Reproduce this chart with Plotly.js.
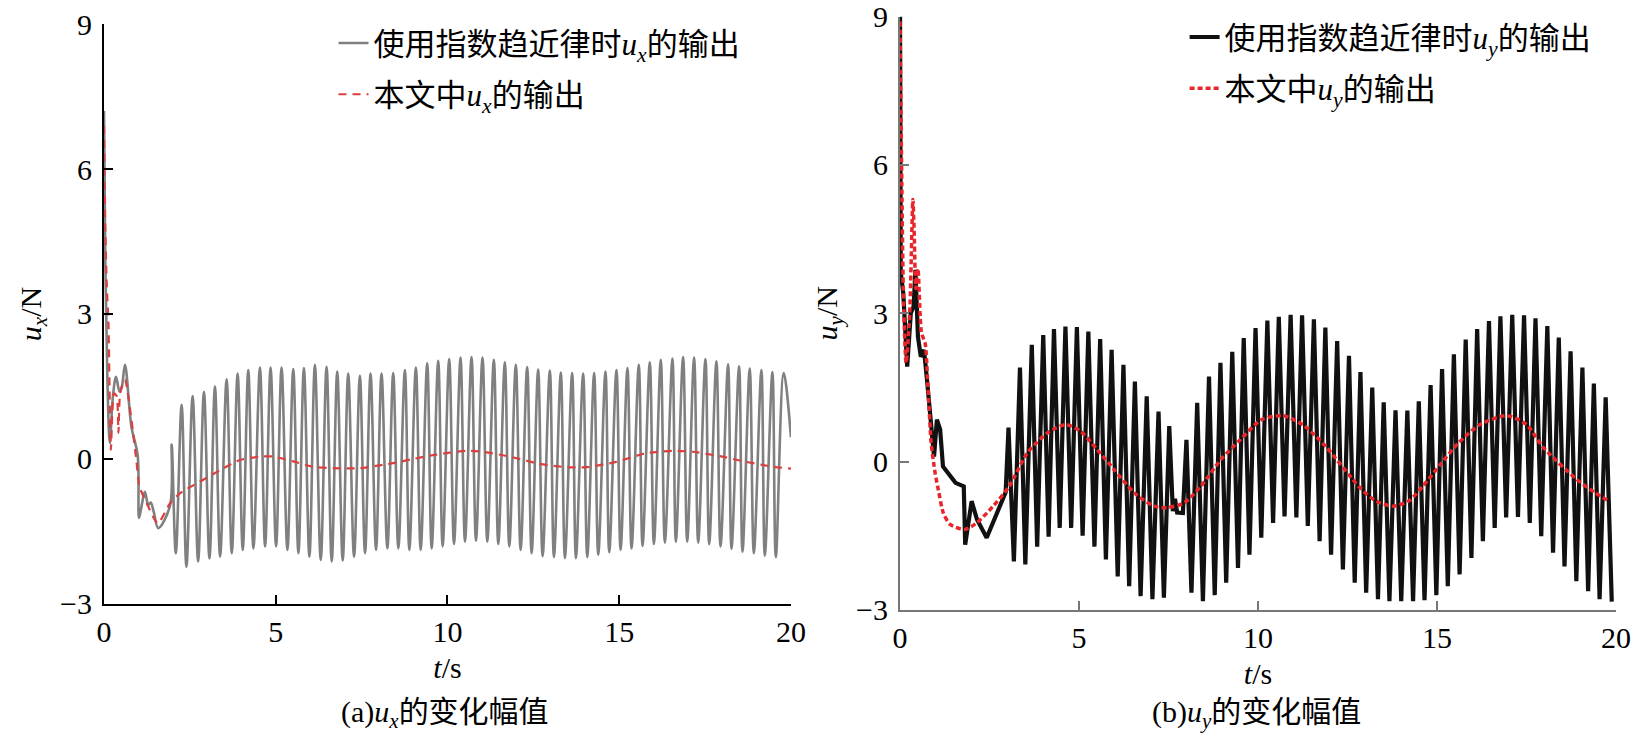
<!DOCTYPE html>
<html>
<head>
<meta charset="utf-8">
<script src="https://cdn.plot.ly/plotly-3.0.1.min.js"></script>
<style>
html, body { margin: 0; padding: 0; background: #fff; }
#chart { width: 1643px; height: 741px; }
</style>
</head>
<body>
<div id="chart"></div>
<script>
// ---- (a) u_x, exponential reaching law (grey) ----
var uxExpStartT = [0, 0.04, 0.10, 0.17, 0.26, 0.35, 0.45, 0.52, 0.61, 0.80, 0.98, 1.02, 1.10, 1.19, 1.29, 1.36, 1.45, 1.58, 1.92, 1.97];
var uxExpStartV = [7.2, 4.0, 1.6, 0.33, 1.3, 1.7, 1.4, 1.5, 1.95, 0.66, 0.08, -1.22, -0.95, -0.68, -0.95, -0.9, -1.1, -1.43, -0.97, 0.3];
var uxExpTroughT = [2.09, 2.40, 2.74, 3.07, 3.38, 3.72, 4.04, 4.35, 4.69, 5.01, 5.34, 5.66, 5.98, 6.31, 6.63, 6.95, 7.28, 7.60, 7.92, 8.25,
    8.57, 8.89, 9.22, 9.54, 9.86, 10.19, 10.51, 10.83, 11.16, 11.48, 11.80, 12.13, 12.45, 12.77, 13.10, 13.42, 13.74, 14.07, 14.39, 14.71,
    15.04, 15.36, 15.68, 16.01, 16.33, 16.65, 16.98, 17.30, 17.62, 17.95, 18.27, 18.59, 18.92, 19.24, 19.56];
var uxExpTroughV = [-1.95, -2.23, -2.12, -2.06, -2.02, -1.95, -1.88, -1.85, -1.81, -1.81, -1.88, -1.95, -2.02, -2.09, -2.12, -2.10, -2.02, -1.95, -1.88, -1.85,
    -1.85, -1.88, -1.88, -1.85, -1.81, -1.76, -1.71, -1.69, -1.71, -1.76, -1.81, -1.88, -1.95, -2.01, -2.03, -2.05, -2.05, -2.03, -1.98, -1.93,
    -1.88, -1.85, -1.80, -1.76, -1.73, -1.71, -1.71, -1.73, -1.76, -1.81, -1.86, -1.92, -1.95, -2.00, -2.03];
var uxExpPeakT = [2.26, 2.58, 2.91, 3.23, 3.57, 3.89, 4.20, 4.54, 4.85, 5.17, 5.51, 5.82, 6.14, 6.48, 6.79, 7.11, 7.45, 7.76, 8.08, 8.42,
    8.76, 9.08, 9.41, 9.73, 10.05, 10.38, 10.70, 11.02, 11.35, 11.67, 11.99, 12.32, 12.64, 12.98, 13.30, 13.63, 13.95, 14.27, 14.60, 14.92,
    15.24, 15.57, 15.89, 16.21, 16.55, 16.86, 17.18, 17.51, 17.83, 18.17, 18.49, 18.80, 19.14, 19.46, 19.79];
var uxExpPeakV = [1.12, 1.30, 1.39, 1.50, 1.65, 1.77, 1.84, 1.89, 1.89, 1.89, 1.86, 1.88, 1.95, 1.91, 1.81, 1.77, 1.72, 1.77, 1.77, 1.78,
    1.84, 1.89, 1.98, 2.03, 2.07, 2.10, 2.11, 2.10, 2.05, 2.00, 1.95, 1.90, 1.85, 1.83, 1.79, 1.78, 1.77, 1.78, 1.81, 1.84,
    1.88, 1.95, 2.00, 2.05, 2.08, 2.11, 2.10, 2.07, 2.02, 1.96, 1.92, 1.87, 1.84, 1.80, 1.78];
var uxExpEndT = [20.0];
var uxExpEndV = [0.45];

// ---- (a) u_x, this paper (red dashed) ----
var uxOursT = [0, 0.03, 0.08, 0.13, 0.20, 0.29, 0.37, 0.42, 0.47, 0.61, 0.80, 0.95, 1.03, 1.24, 1.48, 1.58, 1.92, 2.21, 2.79, 3.38,
    3.96, 4.54, 4.93, 5.51, 6.09, 6.67, 7.45, 8.13, 8.61, 9.00, 9.58, 10.55, 11.03, 11.81, 12.68, 13.46, 14.04, 14.91, 15.78, 16.56,
    17.14, 17.92, 18.70, 19.48, 20.0];
var uxOursV = [6.9, 5.0, 3.6, 2.8, 0.19, 1.36, 1.3, 0.54, 1.36, 1.64, 0.81, -0.08, -0.57, -0.91, -1.26, -1.33, -0.92, -0.71, -0.47, -0.23,
    -0.02, 0.05, 0.05, -0.05, -0.16, -0.19, -0.19, -0.12, -0.06, 0.0, 0.08, 0.17, 0.15, 0.05, -0.1, -0.17, -0.17, -0.06, 0.12, 0.17,
    0.15, 0.06, -0.06, -0.16, -0.2];

// ---- (b) u_y, exponential reaching law (black) ----
var uyExpStartT = [0, 0.02, 0.09, 0.13, 0.16, 0.20, 0.30, 0.38, 0.43, 0.50, 0.58, 0.67, 0.76, 0.86, 0.95, 1.03, 1.12, 1.20, 1.30, 1.55,
    1.78, 1.82, 2.00, 2.15, 2.42, 2.95];
var uyExpStartV = [9.0, 3.82, 3.41, 2.8, 2.2, 1.92, 3.0, 3.14, 3.88, 2.53, 2.12, 2.26, 1.6, 0.85, 0.1, 0.85, 0.65, -0.1, -0.2, -0.43,
    -0.5, -1.68, -0.8, -1.17, -1.54, -0.62];
var uyExpTop1T = [3.03, 3.35, 3.68, 4.00, 4.30, 4.62, 4.94, 5.26, 5.59, 5.91, 6.24, 6.56, 6.89, 7.22, 7.52];
var uyExpTop1V = [0.69, 1.90, 2.36, 2.56, 2.68, 2.73, 2.72, 2.63, 2.48, 2.26, 1.96, 1.62, 1.32, 1.01, 0.72];
var uyExpBot1T = [3.18, 3.50, 3.83, 4.15, 4.46, 4.78, 5.10, 5.43, 5.75, 6.08, 6.40, 6.72, 7.05, 7.37, 7.62];
var uyExpBot1V = [-2.02, -2.08, -1.72, -1.52, -1.34, -1.34, -1.50, -1.72, -1.98, -2.32, -2.52, -2.72, -2.78, -2.75, -1.0];
var uyExpGapT = [7.68, 7.74, 7.90];
var uyExpGapV = [-0.75, -1.03, -1.04];
var uyExpTop2T = [8.00, 8.30, 8.63, 8.95, 9.28, 9.60, 9.93, 10.26, 10.58, 10.91, 11.23, 11.56, 11.88, 12.21, 12.54, 12.86, 13.19, 13.51, 13.84, 14.17,
    14.49, 14.82, 15.14, 15.47, 15.80, 16.12, 16.45, 16.77, 17.10, 17.43, 17.75, 18.08, 18.40, 18.73, 19.06, 19.38, 19.71];
var uyExpTop2V = [0.44, 1.19, 1.72, 2.00, 2.22, 2.50, 2.70, 2.85, 2.93, 2.97, 2.96, 2.88, 2.71, 2.44, 2.14, 1.81, 1.50, 1.20, 1.04, 1.03,
    1.22, 1.55, 1.87, 2.17, 2.47, 2.68, 2.84, 2.94, 2.97, 2.96, 2.90, 2.74, 2.51, 2.23, 1.90, 1.58, 1.30];
var uyExpBot2T = [8.14, 8.46, 8.79, 9.11, 9.44, 9.76, 10.09, 10.42, 10.74, 11.07, 11.39, 11.72, 12.04, 12.37, 12.70, 13.02, 13.35, 13.67, 14.00, 14.33,
    14.65, 14.98, 15.30, 15.63, 15.96, 16.28, 16.61, 16.93, 17.26, 17.59, 17.91, 18.24, 18.56, 18.89, 19.22, 19.54, 19.88];
var uyExpBot2V = [-2.65, -2.82, -2.70, -2.45, -2.15, -1.88, -1.54, -1.24, -1.11, -1.13, -1.30, -1.61, -1.88, -2.18, -2.45, -2.65, -2.78, -2.82, -2.82, -2.82,
    -2.80, -2.70, -2.52, -2.28, -1.95, -1.61, -1.34, -1.13, -1.12, -1.24, -1.51, -1.84, -2.12, -2.42, -2.62, -2.78, -2.83];

// ---- (b) u_y, this paper (red dotted) ----
var uyOursT = [0, 0.05, 0.10, 0.17, 0.27, 0.36, 0.40, 0.44, 0.50, 0.60, 0.70, 0.78, 0.87, 0.98, 1.07, 1.21, 1.40, 1.81, 2.14, 2.60,
    3.05, 3.56, 4.12, 4.63, 5.05, 5.51, 5.98, 6.54, 7.10, 7.47, 7.94, 8.40, 8.96, 9.50, 10.10, 10.70, 11.30, 11.90, 12.85, 13.30,
    13.77, 14.20, 14.60, 15.10, 15.60, 16.20, 16.95, 17.50, 17.95, 18.90, 19.40, 19.80];
var uyOursV = [8.9, 5.6, 3.2, 2.0, 3.0, 5.3, 4.5, 3.5, 3.9, 2.6, 2.4, 1.5, 0.38, -0.23, -0.57, -1.04, -1.27, -1.37, -1.24, -0.9,
    -0.5, 0.18, 0.58, 0.75, 0.61, 0.24, -0.16, -0.63, -0.9, -0.93, -0.83, -0.5, 0.04, 0.44, 0.85, 0.93, 0.72, 0.3, -0.53, -0.8,
    -0.9, -0.8, -0.5, -0.05, 0.38, 0.75, 0.93, 0.75, 0.3, -0.36, -0.62, -0.8];

var xTicks = [0, 5, 10, 15, 20];
var yTicks = [-3, 0, 3, 6, 9];

// interleave two alternating point lists (a0, b0, a1, b1, ...)
function interleave(aT, aV, bT, bV) {
    var t = [], v = [];
    for (var i = 0; i < aT.length; i++) {
        t.push(aT[i]); v.push(aV[i]);
        if (i < bT.length) { t.push(bT[i]); v.push(bV[i]); }
    }
    return { t: t, v: v };
}

var gx = interleave(uxExpTroughT, uxExpTroughV, uxExpPeakT, uxExpPeakV);
var greyT = uxExpStartT.concat(gx.t, uxExpEndT);
var greyV = uxExpStartV.concat(gx.v, uxExpEndV);

var b1 = interleave(uyExpTop1T, uyExpTop1V, uyExpBot1T, uyExpBot1V);
var b2 = interleave(uyExpTop2T, uyExpTop2V, uyExpBot2T, uyExpBot2V);
var blackT = uyExpStartT.concat(b1.t, uyExpGapT, b2.t);
var blackV = uyExpStartV.concat(b1.v, uyExpGapV, b2.v);

var FONT = 'Liberation Serif, "Noto Sans CJK SC", serif';

var traces = [
    {
        x: greyT, y: greyV, xaxis: 'x', yaxis: 'y',
        type: 'scatter', mode: 'lines',
        name: '使用指数趋近律时<i>u</i><sub><i>x</i></sub>的输出',
        line: { color: '#808080', width: 2.6, shape: 'spline', smoothing: 1 },
        legend: 'legend', legendgroup: 'a1'
    },
    {
        x: uxOursT, y: uxOursV, xaxis: 'x', yaxis: 'y',
        type: 'scatter', mode: 'lines',
        name: '本文中<i>u</i><sub><i>x</i></sub>的输出',
        line: { color: '#d9403f', width: 2.2, dash: '8px,6px', shape: 'spline', smoothing: 0.6 },
        legend: 'legend', legendgroup: 'a2'
    },
    {
        x: blackT, y: blackV, xaxis: 'x2', yaxis: 'y2',
        type: 'scatter', mode: 'lines',
        name: '使用指数趋近律时<i>u</i><sub><i>y</i></sub>的输出',
        line: { color: '#111111', width: 4.2 },
        legend: 'legend2', legendgroup: 'b1'
    },
    {
        x: uyOursT, y: uyOursV, xaxis: 'x2', yaxis: 'y2',
        type: 'scatter', mode: 'lines',
        name: '本文中<i>u</i><sub><i>y</i></sub>的输出',
        line: { color: '#e8262a', width: 3.5, dash: '5px,3px', shape: 'spline', smoothing: 0.7 },
        legend: 'legend2', legendgroup: 'b2'
    }
];

function xAxis(domain, anchor, col) {
    return {
        domain: domain, anchor: anchor, range: [0, 20],
        tickvals: xTicks, ticks: 'inside', ticklen: 9, tickwidth: 2, tickcolor: col,
        showline: true, linecolor: col, linewidth: 2, mirror: false,
        showgrid: false, zeroline: false,
        tickfont: { family: FONT, size: 30, color: '#000' },
        title: { text: '<i>t</i>/s', font: { family: FONT, size: 30, color: '#000' }, standoff: 10 },
        automargin: false, fixedrange: true
    };
}
function yAxis(domain, anchor, col, title) {
    return {
        domain: domain, anchor: anchor, range: [-3, 9],
        tickvals: yTicks, ticks: 'inside', ticklen: 9, tickwidth: 2, tickcolor: col,
        showline: true, linecolor: col, linewidth: 2,
        showgrid: false, zeroline: false,
        tickfont: { family: FONT, size: 30, color: '#000' }, ticklabelstandoff: 4,
        title: { text: title, font: { family: FONT, size: 30, color: '#000' }, standoff: 10 },
        automargin: false, fixedrange: true
    };
}

var legendBase = {
    font: { family: FONT, size: 31, color: '#000' },
    bgcolor: 'rgba(0,0,0,0)', borderwidth: 0,
    xanchor: 'left', yanchor: 'top',
    traceorder: 'grouped', tracegroupgap: 8,
    itemwidth: 30
};

var capFont = { family: FONT, size: 30, color: '#000' };

var layout = {
    width: 1643, height: 741,
    margin: { l: 0, r: 0, t: 0, b: 0 },
    paper_bgcolor: '#fff', plot_bgcolor: 'rgba(0,0,0,0)',
    showlegend: true,
    xaxis: xAxis([0.0633, 0.4814], 'y', '#000'),
    yaxis: yAxis([0.1849, 0.9676], 'x', '#000', '<i>u</i><sub><i>x</i></sub>/N'),
    xaxis2: xAxis([0.5478, 0.9836], 'y2', '#777'),
    yaxis2: yAxis([0.1768, 0.9777], 'x2', '#777', '<i>u</i><sub><i>y</i></sub>/N'),
    legend: Object.assign({}, legendBase, { x: 0.203, y: 0.978 }),
    legend2: Object.assign({}, legendBase, { x: 0.721, y: 0.986 }),
    annotations: [
        { text: '(a)<i>u</i><sub><i>x</i></sub>的变化幅值', xref: 'paper', yref: 'paper', x: 0.2706, y: 0.036,
          xanchor: 'center', yanchor: 'middle', showarrow: false, font: capFont },
        { text: '(b)<i>u</i><sub><i>y</i></sub>的变化幅值', xref: 'paper', yref: 'paper', x: 0.7645, y: 0.036,
          xanchor: 'center', yanchor: 'middle', showarrow: false, font: capFont }
    ]
};

Plotly.newPlot('chart', traces, layout, { displayModeBar: false, staticPlot: true });
</script>
</body>
</html>
